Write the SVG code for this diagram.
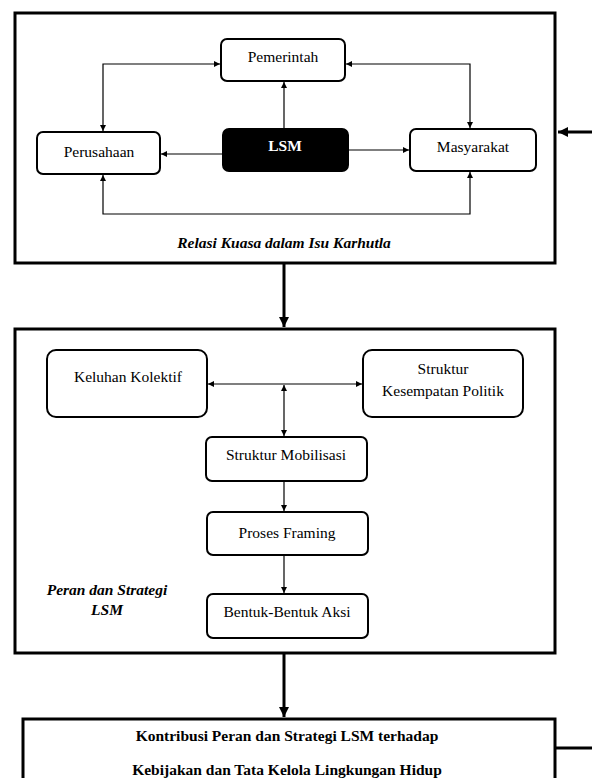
<svg xmlns="http://www.w3.org/2000/svg" width="592" height="778" viewBox="0 0 592 778" font-family="Liberation Serif, DejaVu Serif, Times New Roman, serif" font-size="15.5">
<style>
.frame{fill:#fff;stroke:#000;stroke-width:3}
.node{fill:#fff;stroke:#000;stroke-width:2}
.dark{fill:#000;stroke:#000;stroke-width:2}
text{fill:#000;text-anchor:middle}
.lbl{font-weight:bold;font-style:italic}
.b{font-weight:bold}
.c{fill:none;stroke:#000;stroke-width:1.2}
.ct{fill:none;stroke:#000;stroke-width:3}
</style>
<defs>
<marker id="a" viewBox="0 0 10 10" refX="10" refY="5" markerWidth="6" markerHeight="6" markerUnits="userSpaceOnUse" orient="auto-start-reverse"><path d="M0,0L10,5L0,10z" fill="#000"/></marker>
<marker id="A" viewBox="0 0 10 10" refX="10" refY="5" markerWidth="10" markerHeight="10" markerUnits="userSpaceOnUse" orient="auto"><path d="M0,0L10,5L0,10z" fill="#000"/></marker>
</defs>
<g id="frame-relasi"><rect class="frame" x="15" y="13" width="540" height="250"/><text class="lbl" x="284" y="248">Relasi Kuasa dalam Isu Karhutla</text></g>
<g id="frame-peran"><rect class="frame" x="15" y="329" width="540" height="324"/><text class="lbl" x="107" y="595">Peran dan Strategi</text><text class="lbl" x="107" y="615">LSM</text></g>
<g id="frame-kontribusi"><rect class="frame" x="23" y="719" width="532" height="70"/><text class="b" x="287" y="741">Kontribusi Peran dan Strategi LSM terhadap</text><text class="b" x="287" y="775">Kebijakan dan Tata Kelola Lingkungan Hidup</text></g>
<g id="pemerintah"><rect class="node" x="221" y="39" width="124" height="42" rx="6"/><text x="283" y="62">Pemerintah</text></g>
<g id="perusahaan"><rect class="node" x="37" y="132" width="123" height="42" rx="6"/><text x="99" y="157">Perusahaan</text></g>
<g id="lsm"><rect class="dark" x="223" y="129" width="125" height="42" rx="6"/><text class="b" x="285" y="151" style="fill:#fff">LSM</text></g>
<g id="masyarakat"><rect class="node" x="410" y="129" width="126" height="42" rx="6"/><text x="473" y="152">Masyarakat</text></g>
<g id="keluhan"><rect class="node" x="47" y="350" width="160" height="67" rx="9"/><text x="128" y="382">Keluhan Kolektif</text></g>
<g id="kesempatan"><rect class="node" x="363" y="350" width="160" height="67" rx="9"/><text x="443" y="374">Struktur</text><text x="443" y="396">Kesempatan Politik</text></g>
<g id="mobilisasi"><rect class="node" x="206" y="437" width="161" height="44" rx="6"/><text x="286" y="460">Struktur Mobilisasi</text></g>
<g id="framing"><rect class="node" x="207" y="512" width="161" height="43" rx="6"/><text x="287" y="538">Proses Framing</text></g>
<g id="aksi"><rect class="node" x="207" y="594" width="161" height="44" rx="6"/><text x="287" y="617">Bentuk-Bentuk Aksi</text></g>
<g id="connectors">
<path class="c" d="M103,131V64H220" marker-start="url(#a)" marker-end="url(#a)"/>
<path class="c" d="M346,64H470V128" marker-start="url(#a)" marker-end="url(#a)"/>
<path class="c" d="M284,128V82" marker-end="url(#a)"/>
<path class="c" d="M223,154H161" marker-end="url(#a)"/>
<path class="c" d="M348,150H409" marker-end="url(#a)"/>
<path class="c" d="M103,175V214H470V172" marker-start="url(#a)" marker-end="url(#a)"/>
<path class="c" d="M208,384H362" marker-start="url(#a)" marker-end="url(#a)"/>
<path class="c" d="M284,385V436" marker-start="url(#a)" marker-end="url(#a)"/>
<path class="c" d="M284,481V511" marker-end="url(#a)"/>
<path class="c" d="M284,555V593" marker-end="url(#a)"/>
<path class="ct" d="M284,264V327" marker-end="url(#A)"/>
<path class="ct" d="M284,654V717" marker-end="url(#A)"/>
<path class="ct" d="M592,132H558" marker-end="url(#A)"/>
<path class="ct" d="M556,748H592"/>
</g>
</svg>
